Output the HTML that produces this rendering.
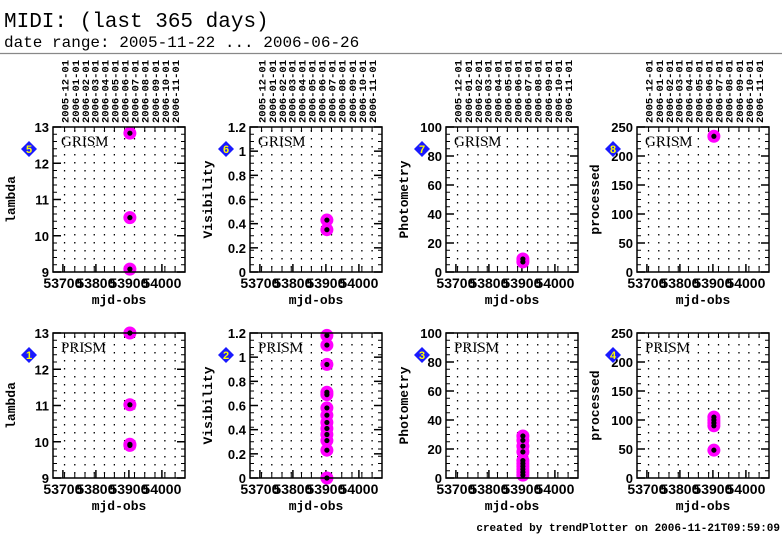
<!DOCTYPE html>
<html><head><meta charset="utf-8"><style>
body{margin:0;background:#fff;width:782px;height:542px;overflow:hidden}
svg text{font-family:"Liberation Sans",sans-serif}
</style></head><body>
<svg id="s" width="782" height="542" xmlns="http://www.w3.org/2000/svg">
<text x="4" y="27" font-size="21" style="font-family:'Liberation Mono',monospace">MIDI: (last 365 days)</text>
<text x="4" y="47" font-size="16" style="font-family:'Liberation Mono',monospace">date range: 2005-11-22 ... 2006-06-26</text>
<line x1="0" y1="53.5" x2="782" y2="53.5" stroke="#888" stroke-width="1.2"/>
<text x="780" y="531" text-anchor="end" font-size="11" font-weight="bold" style="font-family:'Liberation Mono',monospace">created by trendPlotter on 2006-11-21T09:59:09</text>
</svg>
<script>
const monthLabels=["2005-12-01","2006-01-01","2006-02-01","2006-03-01","2006-04-01","2006-05-01","2006-06-01","2006-07-01","2006-08-01","2006-09-01","2006-10-01","2006-11-01"];
const monthMjd=[53705,53736,53767,53795,53826,53856,53887,53917,53948,53979,54009,54040];
const xTicks=[53700,53800,53900,54000];
const p1Vals=[13.0,11.02,9.93,9.9];
const p2Vals=[1.18,1.1,0.94,0.71,0.69,0.58,0.52,0.46,0.41,0.36,0.31,0.23,0.0];
const p3Vals=[29,26,22,18,12,10,8,6,4,2];
const p4Vals=[105,100,95,90,48];
const p5Vals=[12.83,10.5,9.08];
const p6Vals=[0.43,0.35];
const p7Vals=[9,7];
const p8Vals=[234];
const obsMjd=53903;
const panels=[
 {n:5,mode:"GRISM",yl:"lambda",min:9,max:13,ticks:[9,10,11,12,13],vals:p5Vals,r:0,c:0},
 {n:6,mode:"GRISM",yl:"Visibility",min:0,max:1.2,ticks:[0,0.2,0.4,0.6,0.8,1,1.2],vals:p6Vals,r:0,c:1},
 {n:7,mode:"GRISM",yl:"Photometry",min:0,max:100,ticks:[0,20,40,60,80,100],vals:p7Vals,r:0,c:2},
 {n:8,mode:"GRISM",yl:"processed",min:0,max:250,ticks:[0,50,100,150,200,250],vals:p8Vals,r:0,c:3},
 {n:1,mode:"PRISM",yl:"lambda",min:9,max:13,ticks:[9,10,11,12,13],vals:p1Vals,r:1,c:0},
 {n:2,mode:"PRISM",yl:"Visibility",min:0,max:1.2,ticks:[0,0.2,0.4,0.6,0.8,1,1.2],vals:p2Vals,r:1,c:1},
 {n:3,mode:"PRISM",yl:"Photometry",min:0,max:100,ticks:[0,20,40,60,80,100],vals:p3Vals,r:1,c:2},
 {n:4,mode:"PRISM",yl:"processed",min:0,max:250,ticks:[0,50,100,150,200,250],vals:p4Vals,r:1,c:3}
];
const NS="http://www.w3.org/2000/svg",svg=document.getElementById('s');
function mk(t,a,p){const e=document.createElementNS(NS,t);for(const k in a)e.setAttribute(k,a[k]);(p||svg).appendChild(e);return e;}
const X0=[53,250,446,637],Y0=[127,333],W=132,H=145,DMIN=53670,DMAX=54070;
panels.forEach(p=>{
 const x0=X0[p.c],y0=Y0[p.r];
 const g=mk('g',{});
 
 
 const xs=d=>x0+(d-DMIN)/(DMAX-DMIN)*W;
 const ys=v=>y0+H-(v-p.min)/(p.max-p.min)*H;
 monthMjd.forEach(m=>{
  const l=mk('line',{x1:xs(m),x2:xs(m),y1:y0+3,y2:y0+H-3,stroke:'#000','stroke-width':1.3,'stroke-dasharray':'1.5 6.5'},g);
  
  
 });
 for(let v=p.min;v<=p.max+1e-9;v+=(p.max-p.min)/20){
  mk('line',{x1:x0,x2:x0+4,y1:ys(v),y2:ys(v),stroke:'#000','stroke-width':1},g);
  mk('line',{x1:x0+W,x2:x0+W-4,y1:ys(v),y2:ys(v),stroke:'#000','stroke-width':1},g);
 }
 p.ticks.forEach(t=>{
  mk('line',{x1:x0,x2:x0+8,y1:ys(t),y2:ys(t),stroke:'#000','stroke-width':1.5},g);
  mk('line',{x1:x0+W,x2:x0+W-8,y1:ys(t),y2:ys(t),stroke:'#000','stroke-width':1.5},g);
  const tx=mk('text',{x:x0-4,y:ys(t)+5,'text-anchor':'end','font-size':13,'font-weight':'bold'},g);
  tx.textContent=String(t);
  
  
 });
 monthMjd.forEach(m=>{
  mk('line',{x1:xs(m),x2:xs(m),y1:y0+H,y2:y0+H-5,stroke:'#000','stroke-width':1},g);
  mk('line',{x1:xs(m),x2:xs(m),y1:y0,y2:y0+5,stroke:'#000','stroke-width':1},g);
 });
 xTicks.forEach(t=>{
  mk('line',{x1:xs(t),x2:xs(t),y1:y0+H,y2:y0+H-8,stroke:'#000','stroke-width':1.5},g);
  const tx=mk('text',{x:xs(t),y:y0+H+16,'text-anchor':'middle','font-size':14,'font-weight':'bold'},g);
  tx.textContent=String(t);
  
  
 });
 const xl=mk('text',{x:x0+W/2,y:y0+H+32,'text-anchor':'middle','font-size':13,'font-weight':'bold',style:'font-family:"Liberation Mono",monospace'},g);
 xl.textContent='mjd-obs';
 
 
 const yl=mk('text',{transform:`translate(${x0-38},${y0+H/2}) rotate(-90)`,'text-anchor':'middle','font-size':13,'font-weight':'bold',style:'font-family:"Liberation Mono",monospace'},g);
 yl.textContent=p.yl;
 
 
 if(p.r===0){
  monthMjd.forEach((m,i)=>{
   const t=mk('text',{transform:`translate(${xs(m)+4},${y0-4}) rotate(-90)`,'font-size':10.5,'font-weight':'bold',style:'font-family:"Liberation Mono",monospace'},g);
   t.textContent=monthLabels[i];
   
   
  });
 }
 const md=mk('text',{x:x0+8,y:y0+19,'font-size':15,style:'font-family:"Liberation Serif",serif'},g);
 md.textContent=p.mode;
 
 
 const bx=x0-24,by=y0+22;
 const b=mk('g',{},g);
 
 
 mk('polygon',{points:`${bx},${by-8} ${bx+8},${by} ${bx},${by+8} ${bx-8},${by}`,fill:'#1a1aff'},b);
 const bt=mk('text',{x:bx,y:by+4,'text-anchor':'middle','font-size':11,'font-weight':'bold',fill:'#ff0'},b);
 bt.textContent=String(p.n);
 p.vals.forEach(v=>{
  const c=mk('circle',{cx:xs(obsMjd),cy:ys(v),r:6.5,fill:'#ff00ff'},g);
  
  
 });
 p.vals.forEach(v=>{
  const c=mk('circle',{cx:xs(obsMjd),cy:ys(v),r:2.6,fill:'#000'},g);
  
  
 });
 const fr=mk('rect',{x:x0,y:y0,width:W,height:H,fill:'none',stroke:'#000','stroke-width':1.5},g);
 
 
});
</script>
</body></html>
